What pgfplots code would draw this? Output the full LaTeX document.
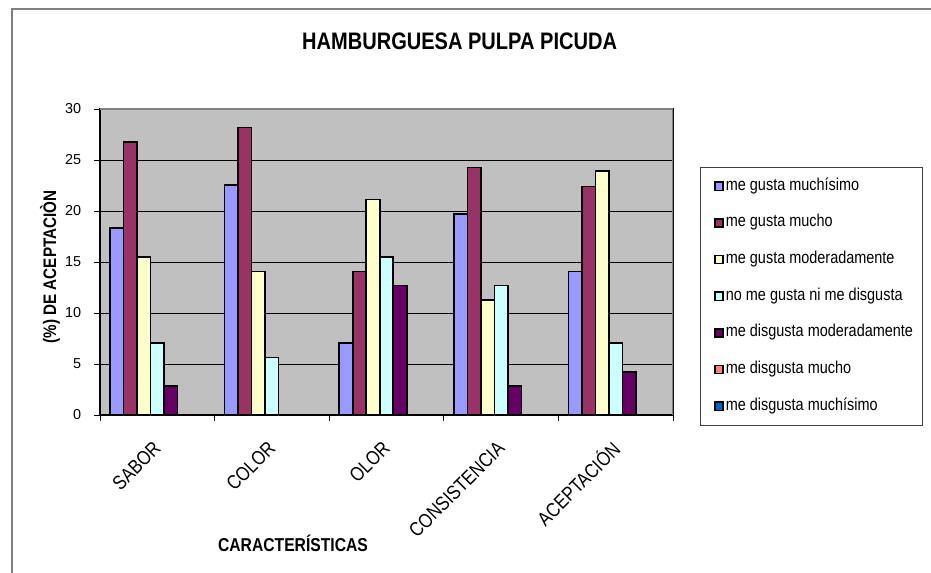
\documentclass[border=0pt]{standalone}
\usepackage{fontspec}
\setmainfont{Liberation Sans}
\newfontfamily\narrowfont{Liberation Sans}[FakeStretch=0.84]
\usepackage{pgfplots}
\pgfplotsset{compat=1.18}
\definecolor{s1}{HTML}{9999FF}
\definecolor{s2}{HTML}{993366}
\definecolor{s3}{HTML}{FFFFCC}
\definecolor{s4}{HTML}{CCFFFF}
\definecolor{s5}{HTML}{660066}
\definecolor{s6}{HTML}{FF8080}
\definecolor{s7}{HTML}{0066CC}
\definecolor{plotbg}{HTML}{C0C0C0}
\begin{document}
\begin{tikzpicture}
\path[use as bounding box] (-75pt,-118.5pt) rectangle (623.25pt,311.25pt);
\draw[gray, line width=0.8pt] (-66pt,-118.5pt) -- (-66pt,304.5pt) -- (623.25pt,304.5pt);
\node[font=\narrowfont\fontsize{17.9}{20}\selectfont\bfseries] at (269.7pt,280.5pt) {HAMBURGUESA PULPA PICUDA};
\begin{axis}[
  at={(0pt,0pt)}, anchor=south west,
  scale only axis, width=429.75pt, height=229.5pt,
  ybar=0pt, bar width=10.125pt,
  xmin=-0.5, xmax=4.5, ymin=0, ymax=30,
  xtick={0,1,2,3,4},
  xticklabels={SABOR,COLOR,OLOR,CONSISTENCIA,ACEPTACIÓN},
  minor xtick={-0.5,0.5,1.5,2.5,3.5,4.5},
  major x tick style={draw=none},
  ytick={0,5,...,30},
  tick pos=left, tick align=outside,
  major tick length=4.5pt, minor tick length=4.5pt,
  tick style={black, line width=0.6pt},
  axis line style={black, line width=0.8pt},
  ymajorgrids, grid style={black, line width=0.6pt},
  axis background/.style={fill=plotbg},
  /pgf/number format/assume math mode=true,
  yticklabel style={anchor=east, inner sep=0pt, xshift=-9.4pt, font=\fontsize{10.8}{13}\selectfont},
  xticklabel style={yshift=-18pt, rotate=45, anchor=east, inner sep=0pt, font=\narrowfont\fontsize{14.9}{17}\selectfont},
  xlabel={CARACTERÍSTICAS},
  xlabel style={at={(axis description cs:0.3368,-0.418)}, anchor=center, font=\narrowfont\fontsize{14}{16}\selectfont\bfseries},
  ylabel={(\%) DE ACEPTACIÒN},
  ylabel style={at={(axis description cs:-0.0873,0.4837)}, anchor=center, rotate=0, font=\narrowfont\fontsize{13.6}{16}\selectfont\bfseries},
  legend style={at={(axis description cs:1.0471,0.8105)}, anchor=north west,
    draw=black!75, line width=0.6pt, fill=white,
    font=\narrowfont\fontsize{12.9}{15}\selectfont,
    row sep=17pt, inner xsep=5.5pt, inner ysep=9pt,
    nodes={inner ysep=0pt, inner xsep=1.5pt, text height=8pt, text depth=2.5pt}},
  legend cell align=left,
  legend image code/.code={\path (0pt,0pt); \draw[#1, draw=black, line width=1.1pt] (4.8pt,-3pt) rectangle (11pt,3.2pt);},
]
\addplot[fill=s1, draw=black, line width=1.15pt] coordinates {(0,18.31) (1,22.54) (2,7.04) (3,19.72) (4,14.08)};
\addplot[fill=s2, draw=black, line width=1.15pt] coordinates {(0,26.76) (1,28.17) (2,14.08) (3,24.25) (4,22.38)};
\addplot[fill=s3, draw=black, line width=1.15pt] coordinates {(0,15.49) (1,14.08) (2,21.13) (3,11.27) (4,23.94)};
\addplot[fill=s4, draw=black, line width=1.15pt] coordinates {(0,7.04) (1,5.63) (2,15.49) (3,12.68) (4,7.04)};
\addplot[fill=s5, draw=black, line width=1.15pt] coordinates {(0,2.82) (1,0) (2,12.68) (3,2.82) (4,4.23)};
\addplot[fill=s6, draw=black, line width=1.15pt] coordinates {(0,0) (1,0) (2,0) (3,0) (4,0)};
\addplot[fill=s7, draw=black, line width=1.15pt] coordinates {(0,0) (1,0) (2,0) (3,0) (4,0)};
\legend{me gusta muchísimo, me gusta mucho, me gusta moderadamente, no me gusta ni me disgusta, me disgusta moderadamente, me disgusta mucho, me disgusta muchísimo}
\draw[gray, line width=0.8pt] (rel axis cs:0,1) -- (rel axis cs:1,1) -- (rel axis cs:1,0);
\end{axis}
\end{tikzpicture}
\end{document}
